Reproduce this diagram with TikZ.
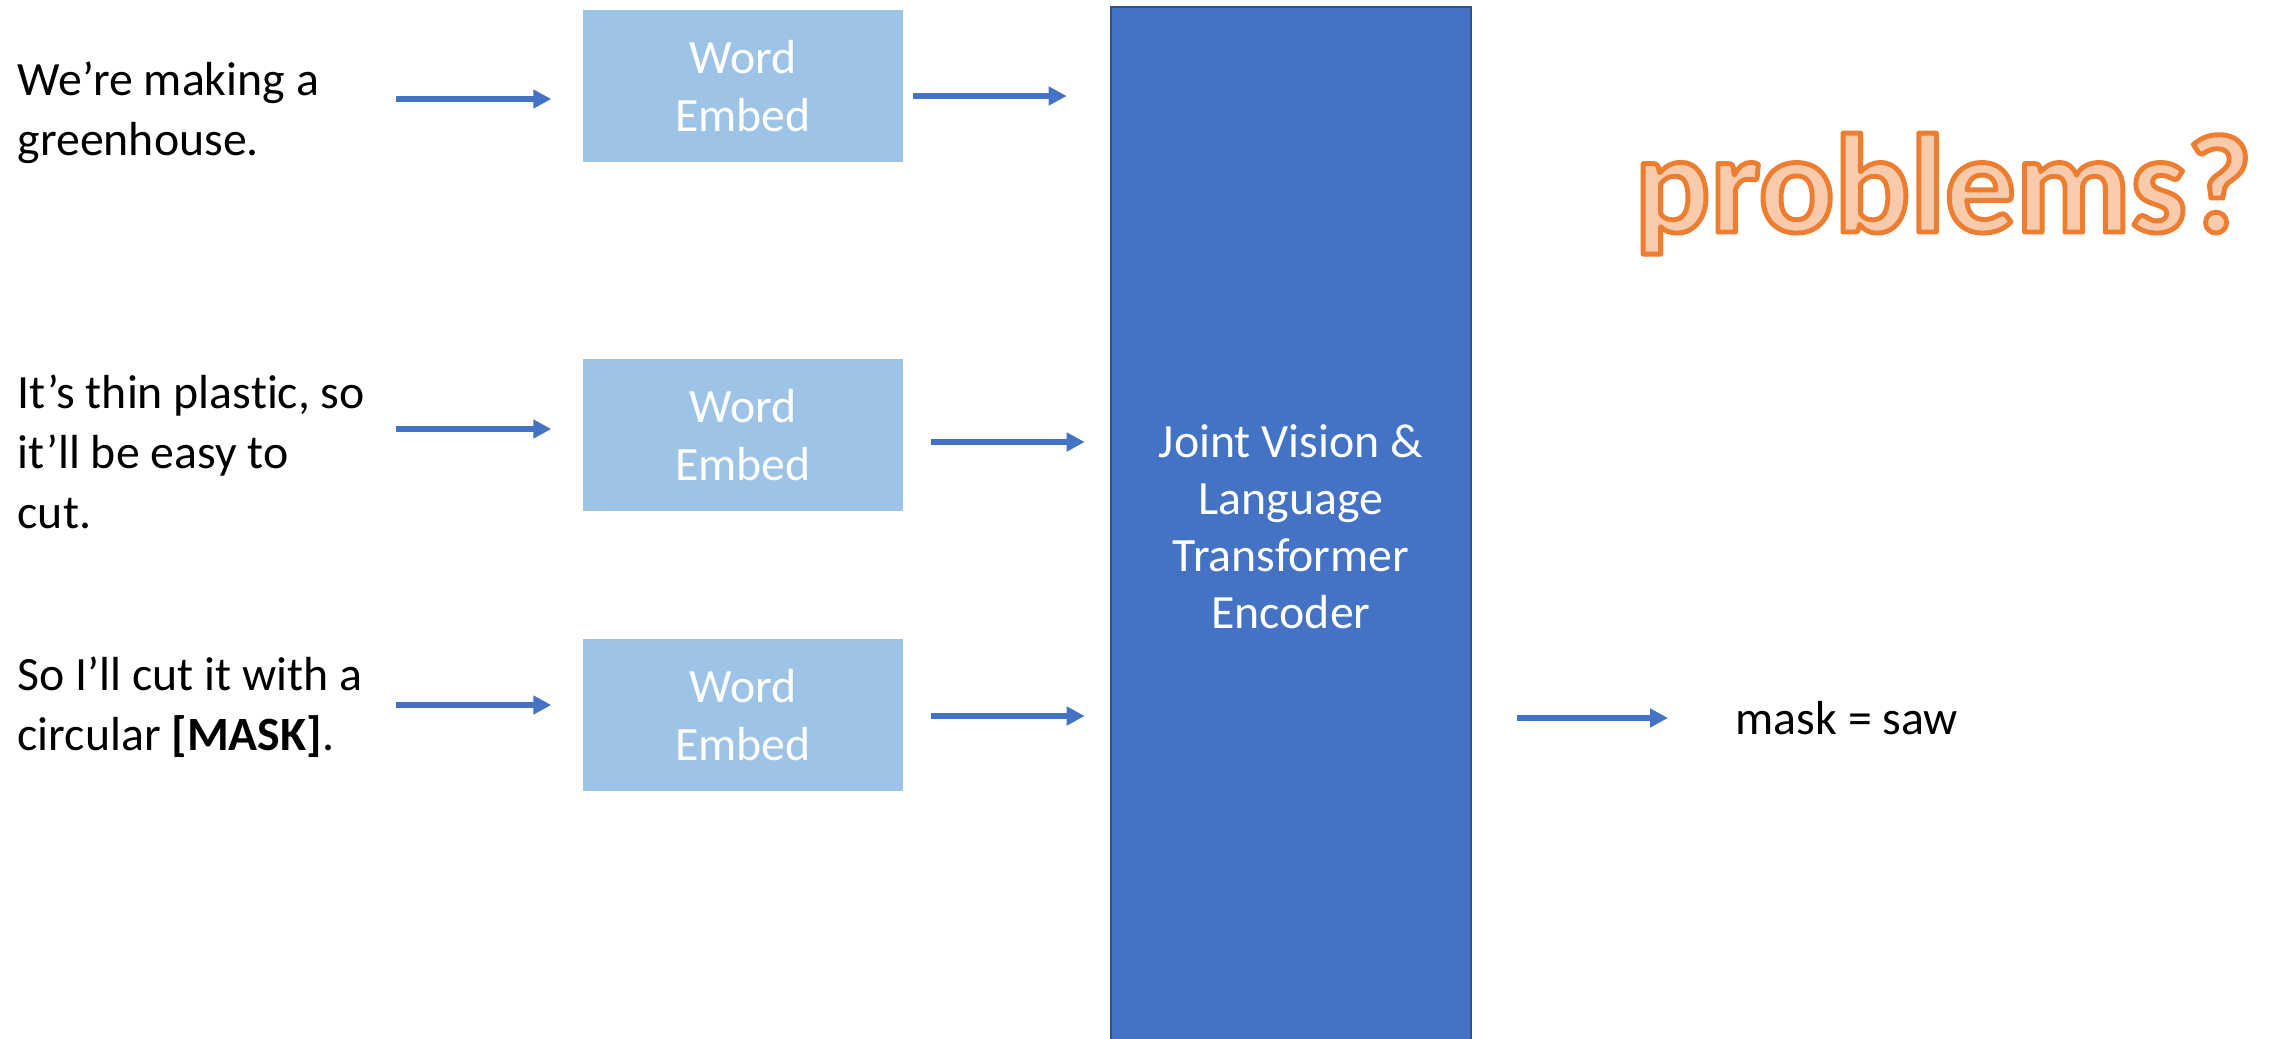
\documentclass[tikz,border=0pt]{standalone}
\usepackage{fontspec}
\setmainfont{Carlito}[Ligatures=NoCommon]
\usetikzlibrary{arrows.meta, positioning}
\definecolor{embedblue}{HTML}{9DC3E6}
\definecolor{encblue}{HTML}{4472C4}
\definecolor{encedge}{HTML}{2F528F}
\definecolor{qorange}{HTML}{ED7D31}
\definecolor{qfill}{HTML}{F8CBAD}
% outlined text: orange stroke over the light fill
\newcommand{\outlinetext}[1]{\special{pdf:literal direct 0.929 0.490 0.192 RG 1 j 2 Tr 1.4 w}#1\special{pdf:literal direct 0 Tr}}

\begin{document}
\begin{tikzpicture}[
    every node/.style={font=\fontsize{13.6pt}{17pt}\selectfont, inner sep=0pt},
    embed/.style={fill=embedblue, minimum width=3.2cm, minimum height=1.52cm, text=white, align=center, font=\fontsize{13.6pt}{16.4pt}\selectfont},
    sent/.style={anchor=west, align=left},
    flow/.style={encblue, line width=0.06cm, -{Triangle[length=0.18cm, width=0.18cm]}}
]
\useasboundingbox (0,0) rectangle (22.74,-10.38);

\node[draw=encedge, line width=0.02cm, fill=encblue, minimum width=3.6cm, minimum height=10.4cm, text=white, align=center, font=\fontsize{13.6pt}{16.2pt}\selectfont] (enc) at (12.91,-5.27) {Joint Vision \&\\Language\\Transformer\\Encoder};

\node[sent] (s1) at (0.17,-1.13) {We’re making a\\greenhouse.};
\node[sent] (s2) at (0.17,-4.52) {It’s thin plastic, so\\it’ll be easy to\\cut.};
\node[sent] (s3) at (0.17,-7.07) {So I’ll cut it with a\\circular \textbf{[MASK]}.};

\foreach \i/\y/\ia/\oa/\os in {1/0.86/-0.13/-0.10/0.09, 2/4.35/0.06/-0.07/0.27, 3/7.15/0.10/-0.01/0.27} {
    \node[embed] (e\i) at (7.43,-\y) {Word\\Embed};
    \draw[flow] ([shift={(-1.86,\ia)}]e\i.west) -- ([shift={(-0.31,\ia)}]e\i.west);
    \draw[flow] ([shift={(\os,\oa)}]e\i.east) -- ([shift={(\os+1.54,\oa)}]e\i.east);
}

\node[anchor=west] (res) at (17.35,-7.18) {mask = saw};
\draw[flow] ([xshift=0.45cm]enc.east |- res.west) -- ([xshift=-0.67cm]res.west);

\node[anchor=base west, text=qfill, font=\bfseries\fontsize{40.1pt}{48pt}\selectfont] (prob) at (16.34,-2.32) {\outlinetext{problems?}};
\end{tikzpicture}
\end{document}
